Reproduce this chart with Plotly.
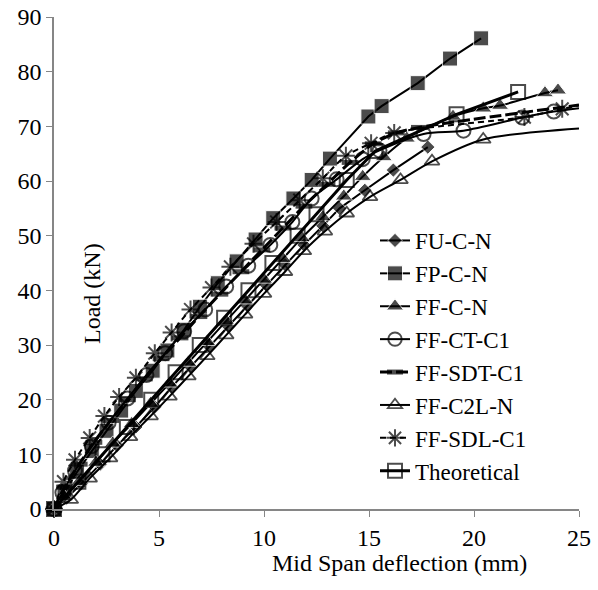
import plotly.graph_objects as go

# ---- data ----
names = ["FU-C-N", "FP-C-N", "FF-C-N", "FF-CT-C1", "FF-SDT-C1", "FF-C2L-N", "FF-SDL-C1", "Theoretical"]

fu_x = [0, 0.6, 1.3, 2.2, 3.0, 3.9, 4.8, 5.6, 6.5, 7.4, 8.3, 9.2, 10.1, 11.0, 11.9, 12.8, 13.6, 14.8, 16.16, 17.8]
fu_y = [0, 2.0, 4.6, 8.2, 11.6, 15.0, 18.7, 22.3, 26.0, 29.7, 33.4, 37.2, 41.0, 44.7, 48.3, 51.8, 55.0, 58.3, 62.0, 66.2]

fp_x = [0, 0.5, 1.1, 1.8, 2.5, 3.2, 3.9, 4.7, 5.4, 6.2, 6.95, 7.8, 8.7, 9.6, 10.44, 11.4, 12.27, 13.14, 14.97, 15.6, 17.32, 18.86, 20.34]
fp_y = [0, 3.2, 6.8, 10.6, 14.3, 18.0, 21.6, 25.3, 29.0, 32.8, 37.0, 41.3, 45.3, 49.3, 53.2, 56.8, 60.2, 64.1, 71.8, 73.7, 77.9, 82.4, 86.1]

ffc_x = [0, 0.5, 1.2, 2.0, 2.8, 3.7, 4.6, 5.5, 6.4, 7.3, 8.2, 9.1, 10.0, 10.9, 11.8, 12.8, 13.8, 14.7, 15.7, 16.8, 19.0, 20.44, 21.24, 23.38, 24.0]
ffc_y = [0, 2.2, 5.0, 8.5, 12.0, 15.6, 19.3, 23.0, 26.8, 30.6, 34.4, 38.2, 42.0, 45.8, 49.6, 53.4, 57.2, 60.8, 64.4, 67.8, 71.8, 73.3, 73.8, 76.1, 76.6]

ct_x = [0, 0.4, 1.0, 1.8, 2.6, 3.5, 4.4, 5.3, 6.2, 7.2, 8.2, 9.25, 10.3, 11.35, 12.27, 13.46, 14.7, 15.5, 17.6, 19.5, 22.3, 23.8, 25.0]
ct_y = [0, 3.0, 7.0, 11.5, 15.8, 20.2, 24.5, 28.5, 32.5, 36.5, 40.7, 44.5, 48.3, 52.5, 56.8, 60.3, 64.0, 65.6, 68.6, 69.2, 71.6, 72.7, 73.3]

sdt_x = [0, 0.5, 1.2, 1.9, 2.7, 3.5, 4.3, 5.1, 6.0, 6.9, 7.9, 8.9, 9.9, 10.9, 11.9, 13.0, 14.1, 15.2, 16.3, 17.4, 25.0]
sdt_y = [0, 4.0, 8.2, 12.2, 16.2, 20.0, 23.8, 27.5, 31.3, 35.2, 39.3, 43.4, 47.4, 51.4, 55.4, 59.4, 63.4, 66.8, 68.8, 69.8, 73.9]

c2l_x = [0, 0.8, 1.7, 2.67, 3.62, 4.6, 5.5, 6.4, 7.3, 8.2, 9.1, 10.0, 11.0, 11.9, 12.9, 13.94, 15.05, 16.5, 18.0, 20.44, 25.0]
c2l_y = [0, 1.7, 5.6, 9.3, 13.2, 17.0, 20.6, 24.3, 28.0, 31.8, 35.6, 39.4, 43.4, 47.2, 50.8, 54.1, 57.1, 60.2, 63.6, 67.6, 69.6]

sdl_x = [0, 0.45, 1.0, 1.7, 2.4, 3.1, 3.9, 4.8, 5.6, 6.5, 7.5, 8.4, 9.5, 10.6, 11.7, 12.8, 13.9, 15.1, 16.2, 22.4, 24.2, 25.0]
sdl_y = [0, 5.0, 9.0, 13.0, 17.0, 20.5, 24.0, 28.5, 32.3, 36.5, 40.5, 44.3, 48.5, 52.5, 56.5, 60.5, 64.6, 66.9, 68.8, 71.7, 73.2, 73.8]

th_x = [0, 1.16, 2.31, 3.47, 4.63, 5.79, 6.94, 8.1, 9.26, 10.4, 11.6, 12.5, 13.94, 15.3, 19.17, 22.1]
th_y = [0, 5.0, 10.0, 15.0, 20.0, 25.0, 30.0, 35.0, 40.0, 45.0, 50.0, 53.9, 60.2, 65.5, 72.2, 76.3]

x_ticks = [0, 5, 10, 15, 20, 25]
y_ticks = [0, 10, 20, 30, 40, 50, 60, 70, 80, 90]

FONT = "Liberation Serif, Times New Roman, serif"
BLACK = "#000000"
AXIS = "#868686"
X_MAX = 25

FIG_W, FIG_H = 598, 590
PLOT_L, PLOT_R, PLOT_T, PLOT_B = 54, 579, 17, 509   # plot area in page pixels


def px(x):
    return (x - PLOT_L) / (PLOT_R - PLOT_L)


def py(y):
    return (PLOT_B - y) / (PLOT_B - PLOT_T)


def sizes(xs, s):
    # no marker where the line only runs out to the edge of the plot
    return [s if x < X_MAX else 0 for x in xs]


fig = go.Figure()

series = [
    (fu_x, fu_y, dict(symbol="diamond", size=11, color=BLACK), dict(width=2, color=BLACK), "linear"),
    (fp_x, fp_y, dict(symbol="square", size=15, color=BLACK), dict(width=2, color=BLACK), "linear"),
    (ffc_x, ffc_y, dict(symbol="triangle-up", size=15, color=BLACK), dict(width=2, color=BLACK), "spline"),
    (ct_x, ct_y, dict(symbol="circle-open", size=14, color=BLACK, line=dict(width=2, color=BLACK)),
     dict(width=2, color=BLACK), "spline"),
    (sdt_x, sdt_y, dict(symbol="line-ew-open", size=12, color=BLACK, line=dict(width=5, color=BLACK)),
     dict(width=3, color=BLACK, dash="12px,4px"), "spline"),
    (c2l_x, c2l_y, dict(symbol="triangle-up-open", size=13, color=BLACK, line=dict(width=1.8, color=BLACK)),
     dict(width=2, color=BLACK), "spline"),
    (sdl_x, sdl_y, dict(symbol="asterisk-open", size=15, color=BLACK, line=dict(width=2, color=BLACK)),
     dict(width=2, color=BLACK, dash="6px,4px"), "spline"),
    (th_x, th_y, dict(symbol="square-open", size=14, color=BLACK, line=dict(width=2, color=BLACK)),
     dict(width=3, color=BLACK), "linear"),
]

for name, (xs, ys, mk, ln, shape) in zip(names, series):
    mk = dict(mk)
    mk["size"] = sizes(xs, mk["size"])
    ln = dict(ln)
    ln["shape"] = shape
    if shape == "spline":
        ln["smoothing"] = 0.8
    fig.add_trace(go.Scatter(x=xs, y=ys, name=name, mode="lines+markers",
                             marker=mk, line=ln, cliponaxis=False))

axis_common = dict(ticks="outside", ticklen=6, tickwidth=1, tickcolor=AXIS,
                   showline=True, linecolor=AXIS, linewidth=1.5,
                   showgrid=False, zeroline=False, automargin=False,
                   ticklabeloverflow="allow",
                   tickfont=dict(family=FONT, size=24, color=BLACK))

fig.update_layout(
    width=FIG_W, height=FIG_H,
    margin=dict(l=PLOT_L, r=FIG_W - PLOT_R, t=PLOT_T, b=FIG_H - PLOT_B,
                pad=0, autoexpand=False),
    paper_bgcolor="white", plot_bgcolor="white",
    font=dict(family=FONT, size=24, color=BLACK),
    showlegend=True,
    legend=dict(x=px(375), y=py(219), xanchor="left", yanchor="top",
                bgcolor="rgba(0,0,0,0)", font=dict(family=FONT, size=23, color=BLACK),
                tracegroupgap=0),
    xaxis=dict(range=[0, X_MAX], tickvals=x_ticks, **axis_common),
    yaxis=dict(range=[0, 90], tickvals=y_ticks, **axis_common),
    annotations=[
        dict(text="Mid Span deflection (mm)", xref="paper", yref="paper",
             x=px(400), y=py(563), xanchor="center", yanchor="middle",
             showarrow=False, font=dict(family=FONT, size=24, color=BLACK)),
        dict(text="Load (kN)", xref="paper", yref="paper",
             x=px(92), y=py(294), xanchor="center", yanchor="middle",
             textangle=-90, showarrow=False, font=dict(family=FONT, size=24, color=BLACK)),
    ],
)

# remove the default 8px page margin so the figure fills the window exactly
fig.write_html("out.html", config={"displayModeBar": False},
               post_script="document.body.style.margin='0';")
